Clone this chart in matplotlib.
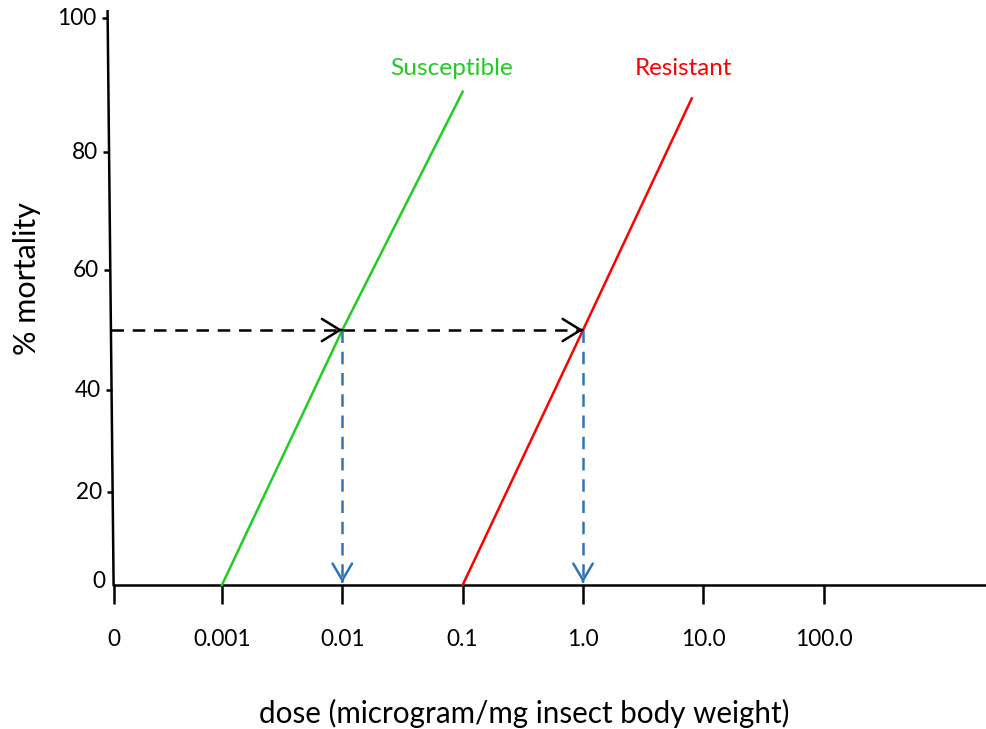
import matplotlib
matplotlib.use("Agg")
import matplotlib.pyplot as plt
import matplotlib.markers as mmarkers
from matplotlib.transforms import offset_copy
import numpy as np

plt.rcParams["font.family"] = ["Lato", "DejaVu Sans"]

# x axis: dose, drawn on a log10 position ("0" sits just left of 0.001)
dose_tick_labels = ["0", "0.001", "0.01", "0.1", "1.0", "10.0", "100.0"]
dose_tick_pos = [-3.9, -3, -2, -1, 0, 1, 2]

# y axis: % mortality, the hand drawn ticks are not evenly spaced
mort_ticks = [0, 20, 40, 60, 80, 100]
mort_knots = [-20, 0, 20, 40, 60, 80, 100, 120]
knot_heights = [-93, 0, 93, 195, 315, 433, 567, 701]

# dose-response lines
sus_dose = [0.001, 0.01, 0.1]
sus_mort = [0, 50, 89]
res_dose = [0.1, 1.0, 8.0]
res_mort = [0, 50, 88]

# LD50 read-off
ld50_mort = 50
ld50_dose = [0.01, 1.0]

GREEN = "#22CC22"
RED = "#FF0000"
BLUE = "#2E75B6"
LW = 1.8


def fwd(m):
    return np.interp(m, mort_knots, knot_heights)


def inv(h):
    return np.interp(h, knot_heights, mort_knots)


fig = plt.figure(figsize=(9.87, 7.29), dpi=100)
W, H = 987, 729
ax = fig.add_axes([100 / W, (H - 585) / H, 887 / W, fwd(101) / H])
ax.set_yscale("function", functions=(fwd, inv))
ax.set_xlim(-4.013, 3.356)
ax.set_ylim(0, 101)
ax.axis("off")

x_bot, x_top = dose_tick_pos[0], -3.95


def axis_x(m):
    # x of the slanted y axis at mortality m
    return x_bot + (x_top - x_bot) * fwd(m) / fwd(101)


# axes lines
ax.plot([x_bot, 3.356], [0, 0], color="black", lw=LW, clip_on=False)
ax.plot([x_top, x_bot], [101, 0], color="black", lw=LW, clip_on=False)

# x ticks and labels
ax.plot(dose_tick_pos, [0] * len(dose_tick_pos), ls="none",
        marker=mmarkers.TICKDOWN, ms=14, mew=LW, color="black", clip_on=False)
xlab_tr = offset_copy(ax.transData, fig=fig, x=0, y=-61 * 0.72, units="points")
for p, lab in zip(dose_tick_pos, dose_tick_labels):
    ax.text(p, 0, lab, ha="center", va="baseline", fontsize=16.3,
            transform=xlab_tr)

# y ticks and labels
yx = [axis_x(m) for m in mort_ticks]
ax.plot(yx[1:], mort_ticks[1:], ls="none", marker=mmarkers.TICKLEFT,
        ms=4.5, mew=LW, color="black", clip_on=False)
for x, m in zip(yx, mort_ticks):
    dx, dy = (-8, -3) if m == 0 else (-11, -7)
    tr = offset_copy(ax.transData, fig=fig, x=dx * 0.72, y=dy * 0.72,
                     units="points")
    ax.text(x, m, str(m), ha="right", va="baseline", fontsize=16.3,
            transform=tr)

# dose-response lines
sx = np.log10(sus_dose)
rx = np.log10(res_dose)
ax.plot(sx, sus_mort, color=GREEN, lw=LW, clip_on=False)
ax.plot(rx, res_mort, color=RED, lw=LW, clip_on=False)
ax.annotate("Susceptible", xy=(sx[-1], sus_mort[-1]), xytext=(-8, 12),
            textcoords="offset points", ha="center", va="baseline",
            fontsize=17.6, color=GREEN)
ax.annotate("Resistant", xy=(rx[-1], res_mort[-1]), xytext=(-6, 17),
            textcoords="offset points", ha="center", va="baseline",
            fontsize=17.4, color=RED)

# LD50 arrows: horizontal black, vertical blue
lx = np.log10(ld50_dose)
starts = [axis_x(ld50_mort), lx[0]]
for x0, x1 in zip(starts, lx):
    ax.plot([x0, x1], [ld50_mort, ld50_mort], color="black", lw=LW,
            ls=(0, (5, 3.5)), clip_on=False)
    ax.annotate("", xy=(x1, ld50_mort), xytext=(-1, 0),
                textcoords="offset points",
                arrowprops=dict(arrowstyle="->,head_length=0.65,head_width=0.4",
                                color="black", lw=LW, mutation_scale=20,
                                shrinkA=0, shrinkB=0))
for x1 in lx:
    ax.plot([x1, x1], [ld50_mort, 0.5], color=BLUE, lw=LW,
            ls=(0, (5, 3.5)), clip_on=False)
    ax.annotate("", xy=(x1, 0.5), xytext=(0, 1),
                textcoords="offset points",
                arrowprops=dict(arrowstyle="->,head_length=0.6,head_width=0.35",
                                color=BLUE, lw=LW, mutation_scale=20,
                                shrinkA=0, shrinkB=0))

# axis titles
fig.text(524 / W, 1 - 723 / H, "dose (microgram/mg insect body weight)",
         ha="center", va="baseline", fontsize=21.3)
fig.text(27 / W, 1 - 279 / H, "% mortality", rotation=90, ha="center",
         va="center", fontsize=22)

fig.savefig("out.png", dpi=100)
